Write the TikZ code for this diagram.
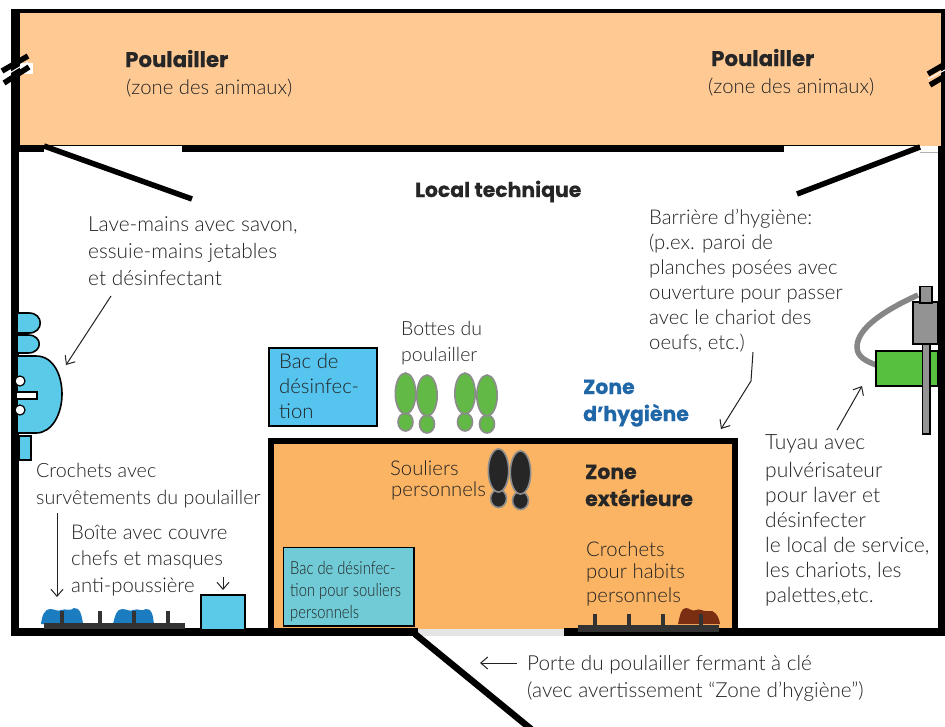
\documentclass[tikz,border=0pt]{standalone}
\usepackage{fontspec}
\setmainfont{Lato Light}
\newfontfamily\boldf[FakeBold=0.5]{Poppins Bold}
\newfontfamily\condf[FakeStretch=0.82]{Lato Light}
\usetikzlibrary{arrows.meta}
\definecolor{poul}{HTML}{FFC994}
\definecolor{ext}{HTML}{FBB464}
\definecolor{sky}{HTML}{5BC9E8}
\definecolor{bacb}{HTML}{55C5F0}
\definecolor{bacc}{HTML}{70CBD6}
\definecolor{boot}{HTML}{62B946}
\definecolor{ink}{HTML}{222222}
\definecolor{hookc}{HTML}{333333}
\definecolor{bluet}{HTML}{2067A8}
\definecolor{cloth}{HTML}{1C7CC0}
\definecolor{brownc}{HTML}{7A2E12}
\definecolor{pipe}{HTML}{868686}
\tikzset{
  lbl/.style={anchor=base west,inner sep=0pt,text=ink,font=\fontsize{20.3}{25}\selectfont},
  ttl/.style={anchor=base west,inner sep=0pt,text=black!85,font=\boldf\fontsize{20.4}{27}\selectfont},
  wall/.style={fill=black,draw=none},
  arrowline/.style={draw=ink,line width=1pt,-{Straight Barb[length=7pt,width=12pt,line width=1pt]}},
  foot/.style={draw=gray!90,line width=1.6pt,fill=#1},
  peg/.style={fill=hookc,draw=none},
}
\newcommand\lns[2][25pt]{\vtop{\baselineskip=#1 \lineskiplimit=-20pt #2}}
\newcommand\tl[1]{\hbox{#1}}
\begin{document}
\begin{tikzpicture}[x=1pt,y=-1pt]
\useasboundingbox (0,0) rectangle (945,726);
\clip (0,0) rectangle (945,726);
% poulailler
\fill[poul] (14,11) rectangle (941,146);
\fill[wall] (14,9) rectangle (945,13);
\fill[wall] (11,9) rectangle (20,146);
\fill[wall] (941,9) rectangle (945,146);
\fill[wall] (20,145) rectangle (920,146);
\fill[wall] (11,145) rectangle (44,152);
\fill[wall] (182,145) rectangle (784,152);
% walls
\fill[wall] (11,143) rectangle (19,636);
\fill[wall] (938,146) rectangle (945,636);
\draw[gray!60,line width=.6pt] (920,152) -- (938,152);
% zone exterieure
\fill[ext] (268,438) rectangle (738,630);
\fill[wall] (268,438) rectangle (738,444);
\fill[wall] (268,438) rectangle (274,632);
\fill[wall] (732,438) rectangle (738,632);
\fill[wall] (11,628) rectangle (418,636);
\fill[wall] (564,628) rectangle (945,636);
\fill[black!10] (418,629) rectangle (564,636);
% door & diagonal walls
\coordinate (doorA) at (415,634);
\coordinate (doorB) at (531,729);
\draw[line width=6.5pt] (doorA) -- (doorB);
\coordinate (bafLa) at (44,146);
\coordinate (bafLb) at (192,199);
\draw[line width=5.5pt] (bafLa) -- (bafLb);
\coordinate (bafRa) at (920,147);
\coordinate (bafRb) at (797,194);
\draw[line width=5.5pt] (bafRa) -- (bafRb);
% wall breaks
\fill[white] (20,63) rectangle (33,74);
\draw[line width=5.5pt] (2,71) -- (28,56);
\draw[line width=5.5pt] (4,83) -- (29,67);
\draw[line width=5.5pt] (928,74) -- (947,63);
\draw[line width=5.5pt] (930,85) -- (947,75);
% sink
\draw[fill=sky,line width=1.6pt] (18,313) -- (29,313) .. controls (44,313) and (44,333) .. (29,333) -- (18,333);
\draw[fill=sky,line width=1.6pt] (18,335) -- (28,335) .. controls (43,335) and (43,353) .. (28,353) -- (18,353);
\draw[fill=sky,line width=1.6pt] (18,356) -- (36,356) .. controls (54,356) and (62,376) .. (62,394) .. controls (62,414) and (52,433) .. (36,433) -- (18,433);
\fill[wall] (11,340) rectangle (18,440);
\draw[fill=white,line width=1.2pt] (20,381) circle (5);
\draw[fill=white,line width=1.2pt] (20,410) circle (5);
\draw[fill=white,line width=1.2pt] (16,392) rectangle (37,399);
\draw[fill=sky,line width=1.4pt] (19,436) rectangle (31,460);
% clothes & hooks left
\fill[cloth] (41,624) .. controls (42,615) and (45,609) .. (50,609) .. controls (55,609) and (58,612) .. (61,610) .. controls (66,608) and (70,612) .. (74,608) .. controls (80,607) and (82,616) .. (83,624) -- cycle;
\fill[cloth] (113,624) .. controls (115,615) and (117,609) .. (122,609) .. controls (127,609) and (130,612) .. (133,610) .. controls (138,608) and (142,612) .. (146,609) .. controls (152,608) and (153,616) .. (154,624) -- cycle;
\fill[peg] (44,623) rectangle (185,629);
\foreach \px in {60,98,132,166} \fill[peg] (\px,611) rectangle (\px+4,624);
\draw[fill=sky,line width=1.4pt] (201,595) rectangle (245,630);
% clothes & hooks right
\fill[brownc] (678,624) .. controls (680,615) and (681,608) .. (686,608) .. controls (690,608) and (692,612) .. (696,610) .. controls (700,608) and (703,612) .. (708,611) .. controls (714,609) and (719,616) .. (720,624) -- cycle;
\fill[peg] (578,625) rectangle (719,632);
\foreach \px in {593,627,661,699} \fill[peg] (\px,614) rectangle (\px+4,625);
% bacs
\draw[fill=bacb,line width=1.6pt] (269,348) rectangle (377,426);
\draw[fill=bacc,line width=1.2pt] (283.5,547.5) rectangle (414,626);
% boots
\foreach \cx/\ty in {405.5/373,427/375,465/373,487/375}{
  \draw[foot=boot] (\cx,\ty+49) ellipse (7.5 and 9);
  \draw[foot=boot] (\cx,\ty+20.5) ellipse (10.2 and 20.5);
}
\foreach \cx/\ty in {498.5/449,520.5/451}{
  \draw[foot=black!85] (\cx,\ty+49.5) ellipse (8 and 9);
  \draw[foot=black!85] (\cx,\ty+21.5) ellipse (10.2 and 21.5);
}
% sprayer
\draw[line width=5.5pt,pipe] (918,295) .. controls (885,310) and (857,328) .. (857,347) .. controls (857,357) and (866,361) .. (876,365);
\draw[fill=boot!90!green,line width=1.4pt] (876,351) rectangle (938,386);
\draw[fill=gray!85,line width=1.4pt] (922.5,344) rectangle (930,434);
\draw[fill=gray!85,line width=1.4pt] (913,302) rectangle (938,344);
\draw[fill=gray!85,line width=1.4pt] (920,286.5) rectangle (932,303);
\fill[wall] (938,280) rectangle (945,440);
\draw[white,line width=1pt] (928,79) -- (945,70);
\draw[white,line width=1pt] (3,77) -- (28,62);
% titles
\node[ttl,font=\boldf\fontsize{21.3}{27}\selectfont] (p1) at (125,67) {Poulailler};
\node[lbl] (p1s) at (126,94) {(zone des animaux)};
\node[ttl,font=\boldf\fontsize{21.3}{27}\selectfont] (p2) at (711,66) {Poulailler};
\node[lbl] (p2s) at (708,93) {(zone des animaux)};
\node[ttl] (lt) at (415,197) {Local technique};
\node[ttl,text=bluet] (zh) at (583,394) {\lns[27pt]{\tl{Zone}\tl{d’hygiène}}};
\node[ttl] (ze) at (585,479) {\lns[27pt]{\tl{Zone}\tl{extérieure}}};
% labels
\node[lbl,font=\fontsize{20.8}{25}\selectfont] (lm) at (88,231) {\lns[27pt]{\tl{Lave-mains avec savon,}\tl{essuie-mains jetables}\tl{et désinfectant}}};
\node[lbl] (ba) at (649,224) {\lns{\tl{Barrière d’hygiène:}\tl{(p.ex. paroi de}\tl{planches posées avec}\tl{ouverture pour passer}\tl{avec le chariot des}\tl{oeufs, etc.)}}};
\node[lbl,font=\fontsize{19.5}{25}\selectfont] (bo) at (401,335) {\lns[26pt]{\tl{Bottes du}\tl{poulailler}}};
\node[lbl] (bd) at (279,368) {\lns{\tl{Bac de}\tl{désinfec-}\tl{tion}}};
\node[lbl] (so) at (390,475) {\lns[21pt]{\tl{Souliers}\tl{\kern1pt personnels}}};
\node[lbl,font=\condf\fontsize{18}{22}\selectfont] (bs) at (290,574) {\lns[22pt]{\tl{Bac de désinfec-}\tl{tion pour souliers}\tl{personnels}}};
\node[lbl,font=\fontsize{19.7}{25}\selectfont] (cr) at (36,477) {\lns[27pt]{\tl{Crochets avec}\tl{survêtements du poulailler}}};
\node[lbl] (bt) at (71,539) {\lns[26.5pt]{\tl{Boîte avec couvre}\tl{chefs et masques}\tl{anti-poussière}}};
\node[lbl] (ch) at (586,556) {\lns[22.5pt]{\tl{Crochets}\tl{pour habits}\vskip1.5pt\tl{personnels}}};
\node[lbl,font=\fontsize{21}{25}\selectfont] (tu) at (765,449) {\lns{\tl{Tuyau avec}\vskip3pt\tl{pulvérisateur}\tl{pour laver et}\tl{désinfecter}\tl{le local de service,}\tl{les chariots, les}\tl{palettes,etc.}}};
\node[lbl,font=\fontsize{20.7}{25}\selectfont] (po) at (527,670) {\lns[27pt]{\tl{Porte du poulailler fermant à clé}\tl{(avec avertissement “Zone d’hygiène”)}}};
% arrows
\coordinate (a1s) at (111,296); \coordinate (a1e) at (66,365);
\draw[arrowline] (a1s) -- (a1e);
\coordinate (a2s) at (57,513); \coordinate (a2e) at (57,597);
\draw[arrowline] (a2s) -- (a2e);
\coordinate (a3s) at (223,577); \coordinate (a3e) at (223,590);
\draw[arrowline] (a3s) -- (a3e);
\coordinate (a4s) at (753,352); \coordinate (a4m) at (751,381); \coordinate (a4e) at (721,429);
\draw[arrowline] (a4s) -- (a4m) -- (a4e);
\coordinate (a5s) at (837,430); \coordinate (a5e) at (862,386);
\draw[arrowline] (a5s) -- (a5e);
\coordinate (a6s) at (517,663); \coordinate (a6e) at (480,663);
\draw[arrowline] (a6s) -- (a6e);
\end{tikzpicture}
\end{document}
